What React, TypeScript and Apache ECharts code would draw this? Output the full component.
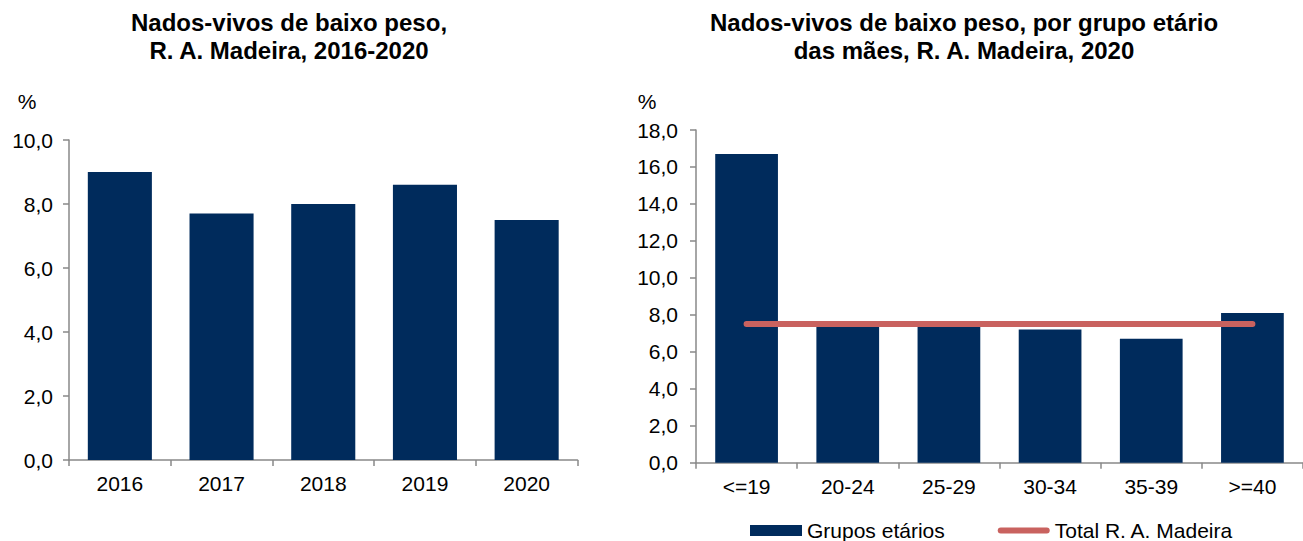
import React, { useEffect, useRef } from "react";
import * as echarts from "echarts";

const years = ["2016", "2017", "2018", "2019", "2020"];
const yearValues = [9.0, 7.7, 8.0, 8.6, 7.5];

const ageGroups = ["<=19", "20-24", "25-29", "30-34", "35-39", ">=40"];
const ageValues = [16.7, 7.4, 7.4, 7.2, 6.7, 8.1];
const totalValue = 7.5;
const totalLine = ageGroups.map(() => totalValue);

const leftTitle = "Nados-vivos de baixo peso,\nR. A. Madeira, 2016-2020";
const rightTitle = "Nados-vivos de baixo peso, por grupo etário\ndas mães, R. A. Madeira, 2020";

const FONT = "'Liberation Sans', Arial, sans-serif";
const BAR = "#002B5C";
const RED = "#C9625F";
const AXIS = "#898989";

const fmt = (v: number) => v.toFixed(1).replace(".", ",");

export default function App() {
  const ref = useRef<HTMLDivElement>(null);
  useEffect(() => {
    if (!ref.current) return;
    const chart = echarts.init(ref.current, undefined, { renderer: "svg" });
    const axisLine = { show: true, lineStyle: { color: AXIS, width: 1.5 } };
    const axisTick = { show: true, length: 6, lineStyle: { color: AXIS, width: 1.5 } };
    const labelStyle = { color: "#000", fontSize: 21, fontFamily: FONT };
    chart.setOption({
      animation: false,
      textStyle: { fontFamily: FONT },
      graphic: [
        {
          type: "text",
          x: 289,
          y: 36,
          style: {
            text: leftTitle,
            textAlign: "center",
            textVerticalAlign: "middle",
            font: `bold 24px ${FONT}`,
            lineHeight: 28,
            fill: "#000",
          },
        },
        {
          type: "text",
          x: 964,
          y: 36,
          style: {
            text: rightTitle,
            textAlign: "center",
            textVerticalAlign: "middle",
            font: `bold 24px ${FONT}`,
            lineHeight: 28,
            fill: "#000",
          },
        },
        {
          type: "text",
          x: 27,
          y: 101,
          style: { text: "%", textAlign: "center", textVerticalAlign: "middle", font: `21px ${FONT}`, fill: "#000" },
        },
        {
          type: "text",
          x: 647,
          y: 101,
          style: { text: "%", textAlign: "center", textVerticalAlign: "middle", font: `21px ${FONT}`, fill: "#000" },
        },
      ],
      legend: {
        data: [
          { name: "Grupos etários", icon: "rect" },
          {
            name: "Total R. A. Madeira",
            icon: "path://M3,0 L49,0 A3,3 0 0 1 49,6 L3,6 A3,3 0 0 1 3,0 Z",
          },
        ],
        left: 745,
        top: 515,
        itemWidth: 52,
        itemHeight: 11,
        itemGap: 53,
        textStyle: { color: "#000", fontSize: 21, fontFamily: FONT },
      },
      grid: [
        { left: 69, top: 140, width: 508.5, height: 320 },
        { left: 696, top: 130, width: 616, height: 332.7 },
      ],
      xAxis: [
        {
          type: "category",
          gridIndex: 0,
          data: years,
          axisLine,
          axisTick,
          axisLabel: { ...labelStyle, margin: 13 },
        },
        {
          type: "category",
          gridIndex: 1,
          data: ageGroups,
          axisLine,
          axisTick,
          axisLabel: { ...labelStyle, margin: 13 },
        },
      ],
      yAxis: [
        {
          type: "value",
          gridIndex: 0,
          min: 0,
          max: 10,
          interval: 2,
          axisLine,
          axisTick,
          splitLine: { show: false },
          axisLabel: { ...labelStyle, margin: 16, formatter: fmt },
        },
        {
          type: "value",
          gridIndex: 1,
          min: 0,
          max: 18,
          interval: 2,
          axisLine,
          axisTick,
          splitLine: { show: false },
          axisLabel: { ...labelStyle, margin: 18, formatter: fmt },
        },
      ],
      series: [
        {
          name: "Nados-vivos de baixo peso",
          type: "bar",
          xAxisIndex: 0,
          yAxisIndex: 0,
          data: yearValues,
          barCategoryGap: "37%",
          itemStyle: { color: BAR },
        },
        {
          name: "Grupos etários",
          type: "bar",
          xAxisIndex: 1,
          yAxisIndex: 1,
          data: ageValues,
          barCategoryGap: "38%",
          itemStyle: { color: BAR },
        },
        {
          name: "Total R. A. Madeira",
          type: "line",
          xAxisIndex: 1,
          yAxisIndex: 1,
          data: totalLine,
          symbol: "none",
          z: 5,
          itemStyle: { color: RED },
          lineStyle: { color: RED, width: 6, cap: "round" },
        },
      ],
    });
    return () => chart.dispose();
  }, []);
  return (
    <div
      ref={ref}
      style={{ position: "absolute", left: 0, top: 0, width: 1303, height: 541, background: "#fff" }}
    />
  );
}
